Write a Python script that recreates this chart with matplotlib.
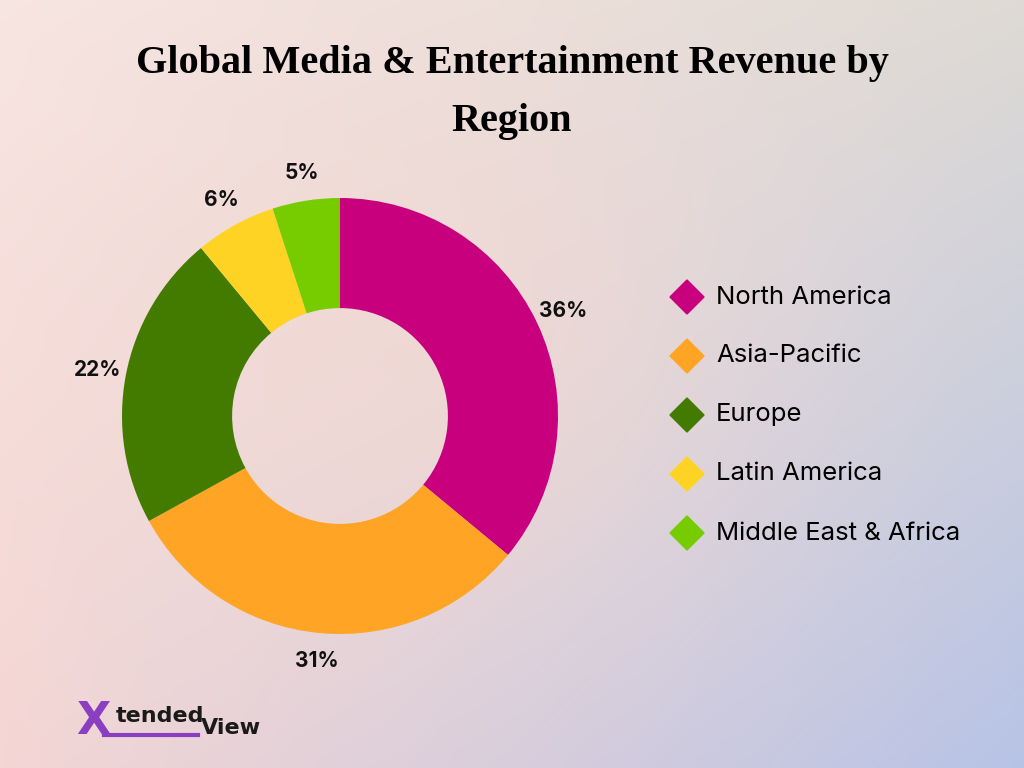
import numpy as np
import matplotlib.pyplot as plt
from matplotlib.patches import RegularPolygon
from matplotlib.colors import to_rgb

regions = ["North America", "Asia-Pacific", "Europe", "Latin America", "Middle East & Africa"]
shares = [36, 31, 22, 6, 5]
colors = ["#C8007E", "#FFA424", "#437A00", "#FFD324", "#77CC00"]

W, H = 1024, 768
fig = plt.figure(figsize=(W / 100, H / 100), dpi=100)

# background gradient, pixel coords overlay
bg = fig.add_axes([0, 0, 1, 1])
bg.set_xlim(0, W)
bg.set_ylim(H, 0)
bg.axis("off")
tl, tr = np.array(to_rgb("#F8E6E3")), np.array(to_rgb("#DEDAD4"))
bl, br = np.array(to_rgb("#F4D6D4")), np.array(to_rgb("#B7C3E6"))
u = np.linspace(0, 1, 256)[None, :, None]
v = np.linspace(0, 1, 192)[:, None, None]
grad = (1 - v) * ((1 - u) * tl + u * tr) + v * ((1 - u) * bl + u * br)
# a little extra peach in the middle
mid = np.array(to_rgb("#F7D9CF"))
w = np.exp(-(((u - 0.4) / 0.35) ** 2 + ((v - 0.45) / 0.4) ** 2))
grad = grad * (1 - 0.55 * w) + mid * 0.55 * w
bg.imshow(np.clip(grad, 0, 1), extent=[0, W, H, 0], aspect="auto", zorder=0)

bg.text(512, 63, "Global Media & Entertainment Revenue by", ha="center", va="center",
        fontsize=29, fontweight="bold", family="Liberation Serif", color="black")
bg.text(512, 122, "Region", ha="center", va="center",
        fontsize=29, fontweight="bold", family="Liberation Serif", color="black")

# legend
for i, (name, c) in enumerate(zip(regions, colors)):
    y = 297 + i * 59
    bg.add_patch(RegularPolygon((687, y), 4, radius=17, orientation=0, color=c))
    bg.text(716, y, name, ha="left", va="center", fontsize=18.5, family="Inter", color="black")

# logo
bg.text(76, 722, "X", ha="left", va="center", fontsize=32, fontweight="bold",
        family="DejaVu Sans", color="#8A3FC0")
bg.text(116, 716, "tended", ha="left", va="center", fontsize=16, fontweight="bold",
        family="DejaVu Sans", color="#1a1a1a")
bg.text(201, 728, "View", ha="left", va="center", fontsize=16, fontweight="bold",
        family="DejaVu Sans", color="#1a1a1a")
bg.plot([104, 198], [735, 735], color="#8A3FC0", lw=3)

# donut
cx, cy, r = 340, 416, 218
lim = 1.4
side = 2 * lim * r
ax = fig.add_axes([(cx - side / 2) / W, (H - cy - side / 2) / H, side / W, side / H])

ax.pie(shares, colors=colors, startangle=90, counterclock=False, radius=1,
       wedgeprops=dict(width=0.505, edgecolor="none"),
       autopct=lambda p: f"{p:.0f}%", pctdistance=1.13,
       textprops=dict(fontsize=15, fontweight="bold", family="Inter", color="#111111"))
ax.set_xlim(-lim, lim)
ax.set_ylim(-lim, lim)
ax.set_aspect("equal")
ax.axis("off")

fig.savefig("out.png", dpi=100)
